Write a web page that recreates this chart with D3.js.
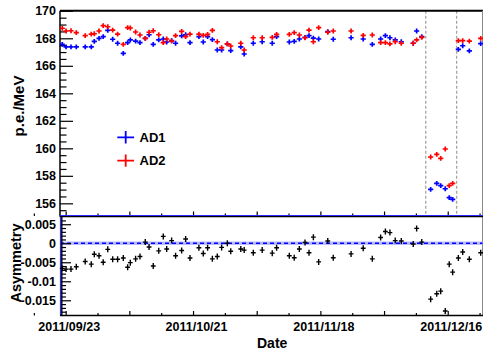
<!DOCTYPE html>
<html>
<head>
<meta charset="utf-8">
<script src="https://cdn.jsdelivr.net/npm/d3@7"></script>
<style>
  html, body { margin: 0; padding: 0; background: #fff; }
  svg { display: block; }
  text { font-family: "Liberation Sans", Arial, Helvetica, sans-serif; font-weight: bold; fill: #000; }
</style>
</head>
<body>
<svg id="chart" width="483" height="355"></svg>
<script>
// Run dates (UTC, hour resolution)
const runDates = [
  "2011-09-22T06","2011-09-23T02","2011-09-24T04","2011-09-25T08","2011-09-27T07","2011-09-28T15",
  "2011-09-29T07","2011-09-30T08","2011-10-01T06","2011-10-02T06","2011-10-03T08","2011-10-04T10",
  "2011-10-05T16","2011-10-06T15","2011-10-07T05","2011-10-08T09","2011-10-09T08","2011-10-10T12",
  "2011-10-11T08","2011-10-12T06","2011-10-13T11","2011-10-14T11","2011-10-15T05","2011-10-16T07",
  "2011-10-17T04","2011-10-18T12","2011-10-19T09","2011-10-20T08","2011-10-22T07","2011-10-23T06",
  "2011-10-24T05","2011-10-25T06","2011-10-26T08","2011-10-27T07","2011-10-28T13","2011-10-29T07",
  "2011-10-31T12","2011-11-01T06","2011-11-03T06","2011-11-05T05","2011-11-07T10","2011-11-08T09",
  "2011-11-11T04","2011-11-12T06","2011-11-13T09","2011-11-14T15","2011-11-15T12","2011-11-16T11",
  "2011-11-17T15","2011-11-19T15","2011-11-20T20","2011-11-24T18","2011-11-27T10","2011-11-29T10",
  "2011-12-01T06","2011-12-02T07","2011-12-03T07","2011-12-04T11","2011-12-05T19","2011-12-08T10",
  "2011-12-09T04","2011-12-10T07","2011-12-12T06","2011-12-13T14","2011-12-14T11","2011-12-15T11",
  "2011-12-16T08","2011-12-17T02","2011-12-18T08","2011-12-19T07","2011-12-20T18","2011-12-23T06"
];

// Light yield of AD1 (p.e./MeV)
const ad1 = [
  167.56,167.37,167.37,167.37,167.37,167.37,167.78,168.00,168.12,168.58,
  167.93,167.64,166.91,167.68,167.88,167.80,167.68,168.00,168.26,167.56,
  167.88,167.95,167.73,167.83,167.64,168.17,168.26,167.68,168.12,167.73,
  168.12,167.90,167.15,167.15,167.59,167.10,167.37,166.86,167.64,167.75,
  167.64,168.12,167.73,167.78,167.95,168.07,168.19,168.02,167.95,168.48,
  167.93,168.04,167.95,167.56,167.95,168.19,168.04,167.88,167.75,167.64,
  168.53,168.12,157.02,157.45,157.28,157.06,156.41,156.29,167.20,167.46,
  167.08,167.61
];

// Light yield of AD2 (p.e./MeV)
const ad2 = [
  168.73,168.53,168.55,168.41,168.19,168.31,168.33,168.53,168.92,168.84,
  168.60,168.31,167.56,168.77,168.75,168.46,168.24,168.00,168.44,168.55,
  168.26,167.68,167.95,167.80,168.19,168.51,168.12,168.31,168.31,168.22,
  168.29,168.58,167.75,167.32,167.59,167.44,167.64,167.15,168.04,168.04,
  168.07,168.29,168.29,168.41,168.24,168.04,168.60,167.75,168.77,168.44,
  168.53,168.53,168.22,168.24,167.68,167.68,167.59,167.75,167.64,167.64,
  167.88,168.07,159.37,159.56,159.27,159.95,157.28,157.45,167.83,167.83,
  167.80,168.00
];

// AD1/AD2 asymmetry per run
const asym = [
  -0.0066,-0.0068,-0.0068,-0.0062,-0.0048,-0.0055,-0.0029,-0.0033,-0.0050,-0.0016,
  -0.0042,-0.0042,-0.0039,-0.0063,-0.0051,-0.0041,-0.0035, 0.0003,-0.0010,-0.0060,
  -0.0020, 0.0018,-0.0015, 0.0007,-0.0033,-0.0019, 0.0011,-0.0039,-0.0012,-0.0027,
  -0.0012,-0.0041,-0.0035,-0.0011, 0.0000,-0.0021,-0.0015,-0.0018,-0.0025,-0.0018,
  -0.0026,-0.0012,-0.0033,-0.0038,-0.0015, 0.0002,-0.0025, 0.0016,-0.0049, 0.0006,
  -0.0038,-0.0028,-0.0013,-0.0041, 0.0015, 0.0031, 0.0028, 0.0007, 0.0006,-0.0002,
   0.0039, 0.0003,-0.0147,-0.0133,-0.0126,-0.0178,-0.0055,-0.0076,-0.0039,-0.0023,
  -0.0042,-0.0025
];

// Period boundaries marked with dashed lines
const periodMarks = ["2011-12-11T04", "2011-12-17T23"];

// Axis ticks and labels
const dateLabels = ["2011-09-23", "2011-10-21", "2011-11-18", "2011-12-16"];
const lyTicks = [156, 158, 160, 162, 164, 166, 168, 170];
const asymTicks = [-0.015, -0.01, -0.005, 0, 0.005];
const asymTickLabels = ["-0.015", "-0.01", "-0.005", "0", "0.005"];
const seriesNames = ["AD1", "AD2"];
const seriesColors = ["#0000ff", "#ff0000"];

const parseHour = d3.utcParse("%Y-%m-%dT%H");
const parseDay = d3.utcParse("%Y-%m-%d");
const fmtDate = d3.utcFormat("%Y/%m/%d");

const svg = d3.select("#chart");
svg.append("rect").attr("width", 483).attr("height", 355).attr("fill", "#fff");

// Geometry
const L = 60, R = 482.5;
const topT = 10.8, topB = 215.7;
const botT = 217, botB = 315.5;

const x = d3.scaleUtc()
  .domain([new Date(Date.UTC(2011, 8, 21, 18)), new Date(Date.UTC(2011, 11, 23, 15, 30))])
  .range([L, R]);
const yTop = d3.scaleLinear().domain([155.1, 170]).range([topB, topT]);
const yBot = d3.scaleLinear().domain([-0.019, 0.0069]).range([botB, botT]);

const dates = runDates.map(parseHour);
const rows = dates.map((d, i) => ({ date: d, ad1: ad1[i], ad2: ad2[i], asym: asym[i] }));

const tickStart = parseDay("2011-09-16");
const tickEnd = parseDay("2011-12-24");
const allWeekly = d3.utcDay.range(tickStart, tickEnd, 7);
const majorDates = allWeekly.filter((d, i) => i % 2 === 1);
const minorDates = allWeekly.filter((d, i) => i % 2 === 0);

function crossPath(cx, cy, h, v) {
  return `M${cx - h},${cy}H${cx + h}M${cx},${cy - v}V${cy + v}`;
}

function styleAxis(g) {
  g.selectAll("path.domain").remove();
  g.selectAll(".tick line").attr("stroke", "#000").attr("stroke-width", 1.2);
  g.selectAll("text").attr("font-size", 12.5).attr("font-family", null).attr("fill", "#000");
}

// ---------- Upper panel: light yield ----------
const upper = svg.append("g");

// period boundary lines
upper.selectAll("line.period").data(periodMarks.map(parseHour)).join("line")
  .attr("x1", d => x(d)).attr("x2", d => x(d))
  .attr("y1", topT).attr("y2", topB)
  .attr("stroke", "#aaa59f").attr("stroke-width", 1.3).attr("stroke-dasharray", "3,2");

// y axis: major + minor ticks
upper.append("g").attr("transform", `translate(${L},0)`)
  .call(d3.axisLeft(yTop).tickValues(lyTicks).tickSizeInner(-13).tickSizeOuter(0).tickPadding(4).tickFormat(d3.format("d")))
  .call(styleAxis);
upper.append("g").attr("transform", `translate(${L},0)`)
  .call(d3.axisLeft(yTop).tickValues(d3.range(155.5, 170, 0.5).filter(v => v % 2 !== 0)).tickSize(-6.5).tickFormat(""))
  .call(styleAxis);

// x axis ticks along the panel bottom
upper.append("g").attr("transform", `translate(0,${topB + 0.3})`)
  .call(d3.axisBottom(x).tickValues(majorDates).tickSize(-4.5).tickFormat(""))
  .call(styleAxis);
upper.append("g").attr("transform", `translate(0,${topB + 0.3})`)
  .call(d3.axisBottom(x).tickValues(minorDates).tickSize(-2.5).tickFormat(""))
  .call(styleAxis);

// frame
upper.append("line").attr("x1", L).attr("x2", L).attr("y1", topT).attr("y2", topB + 1)
  .attr("stroke", "#000").attr("stroke-width", 1.5);
upper.append("line").attr("x1", L).attr("x2", 483).attr("y1", topT).attr("y2", topT)
  .attr("stroke", "#000").attr("stroke-width", 2);
upper.append("line").attr("x1", R).attr("x2", R).attr("y1", topT).attr("y2", botB)
  .attr("stroke", "#8c8c8c").attr("stroke-width", 1);
upper.append("line").attr("x1", L).attr("x2", 483).attr("y1", topB).attr("y2", topB)
  .attr("stroke", "#2a2aff").attr("stroke-width", 1.2);

// data crosses
["ad1", "ad2"].forEach((key, k) => {
  upper.append("g").selectAll("path").data(rows).join("path")
    .attr("d", d => crossPath(x(d.date), yTop(d[key]), 2.6, 2.4))
    .attr("stroke", seriesColors[k]).attr("stroke-width", 1.7).attr("fill", "none");
});

// legend
const leg = upper.append("g");
seriesNames.forEach((name, k) => {
  const cy = 137.3 + k * 23.3;
  leg.append("path").attr("d", crossPath(125.7, cy, 8.4, 6.2))
    .attr("stroke", seriesColors[k]).attr("stroke-width", 1.8).attr("fill", "none");
  leg.append("text").attr("x", 139.5).attr("y", cy + 4.5).attr("font-size", 13).text(name);
});

// axis title
upper.append("text")
  .attr("transform", `translate(24,106) rotate(-90)`)
  .attr("text-anchor", "middle").attr("font-size", 15).text("p.e./MeV");

// ---------- Lower panel: asymmetry ----------
const lower = svg.append("g");

// zero line with band
lower.append("rect").attr("x", L).attr("width", R - L)
  .attr("y", yBot(0.00045)).attr("height", yBot(-0.00045) - yBot(0.00045))
  .attr("fill", "#b9b9ff");
lower.append("line").attr("x1", L).attr("x2", R).attr("y1", yBot(0)).attr("y2", yBot(0))
  .attr("stroke", "#0000ff").attr("stroke-width", 1.3).attr("stroke-dasharray", "4,3");

// y axis
lower.append("g").attr("transform", `translate(${L + 1},0)`)
  .call(d3.axisLeft(yBot).tickValues(asymTicks).tickSizeInner(-10).tickSizeOuter(0).tickPadding(5)
    .tickFormat((d, i) => asymTickLabels[i]))
  .call(styleAxis);
lower.append("g").attr("transform", `translate(${L + 1},0)`)
  .call(d3.axisLeft(yBot).tickValues(d3.range(-18, 7).map(v => v / 1000).filter(v => Math.round(v * 1000) % 5 !== 0)).tickSize(-5).tickFormat(""))
  .call(styleAxis);

// x axis ticks and date labels
lower.append("g").attr("transform", `translate(0,${botB})`)
  .call(d3.axisBottom(x).tickValues(majorDates).tickSize(-4.5).tickFormat(""))
  .call(styleAxis);
lower.append("g").attr("transform", `translate(0,${botB})`)
  .call(d3.axisBottom(x).tickValues(minorDates).tickSize(-2.5).tickFormat(""))
  .call(styleAxis);
lower.append("g").attr("transform", `translate(0,${botB})`)
  .call(d3.axisBottom(x).tickValues(dateLabels.map(parseDay)).tickSize(0).tickPadding(6.6).tickFormat(fmtDate))
  .call(styleAxis)
  .call(g => g.selectAll("text").attr("dx", 3));

// frame
lower.append("line").attr("x1", L).attr("x2", 483).attr("y1", botT - 0.3).attr("y2", botT - 0.3)
  .attr("stroke", "#000").attr("stroke-width", 1.2);
lower.append("line").attr("x1", L + 0.5).attr("x2", L + 0.5).attr("y1", botT).attr("y2", botB)
  .attr("stroke", "#2a2aff").attr("stroke-width", 1.2);
lower.append("line").attr("x1", L + 1.8).attr("x2", L + 1.8).attr("y1", botT).attr("y2", botB)
  .attr("stroke", "#000").attr("stroke-width", 1.4);
lower.append("line").attr("x1", L).attr("x2", 483).attr("y1", botB).attr("y2", botB)
  .attr("stroke", "#000").attr("stroke-width", 1.6);

// data crosses
lower.append("g").selectAll("path").data(rows).join("path")
  .attr("d", d => crossPath(x(d.date), yBot(d.asym), 2.4, 3))
  .attr("stroke", "#000").attr("stroke-width", 1.4).attr("fill", "none");

// axis titles
lower.append("text")
  .attr("transform", `translate(21,263) rotate(-90)`)
  .attr("text-anchor", "middle").attr("font-size", 14.5).text("Asymmetry");
svg.append("text").attr("x", 257).attr("y", 347.7).attr("font-size", 14).text("Date");
</script>
</body>
</html>
